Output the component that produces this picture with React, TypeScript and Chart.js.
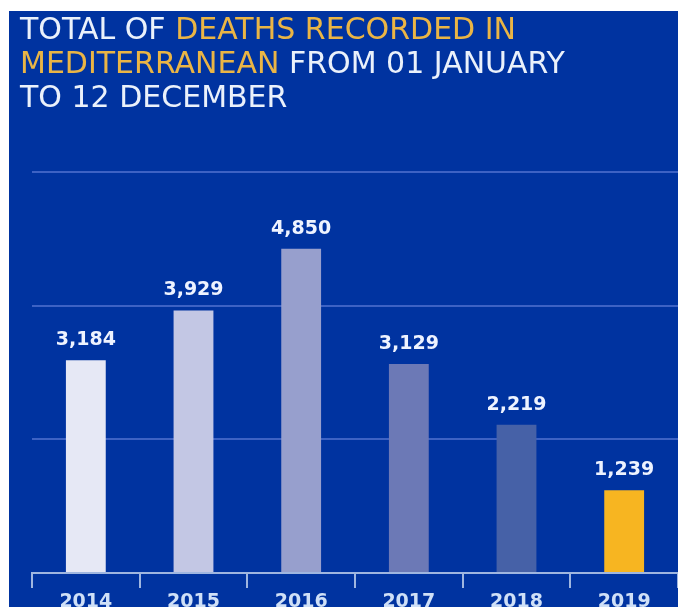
import React, { useEffect, useRef } from "react";
import { Chart, registerables } from "chart.js";

Chart.register(...registerables);

const years = ["2014", "2015", "2016", "2017", "2018", "2019"];
const deaths = [3184, 3929, 4850, 3129, 2219, 1239];
const barColors = ["#e6e8f5", "#c3c7e4", "#979fcd", "#6c79b6", "#4661a7", "#f7b521"];
const yMax = 6000;
const yStep = 2000;

const BG = "#0033a0";
const GRID = "#3d62c4";
const AXIS = "#9fb6e0";

const valueLabels = {
  id: "valueLabels",
  afterDatasetsDraw(chart: any) {
    const ctx = chart.ctx;
    const meta = chart.getDatasetMeta(0);
    ctx.save();
    ctx.font = "bold 19px 'DejaVu Sans'";
    ctx.fillStyle = "#eef3ff";
    ctx.textAlign = "center";
    ctx.textBaseline = "alphabetic";
    meta.data.forEach((bar: any, i: number) => {
      const v = chart.data.datasets[0].data[i] as number;
      ctx.fillText(v.toLocaleString("en-US"), bar.x, bar.y - 15);
    });
    ctx.restore();
  },
};

export default function App() {
  const ref = useRef<HTMLCanvasElement>(null);

  useEffect(() => {
    document.documentElement.style.overflow = "hidden";
    document.body.style.margin = "0";
    const chart = new Chart(ref.current!, {
      type: "bar",
      data: {
        labels: years,
        datasets: [
          {
            data: deaths,
            backgroundColor: barColors,
            borderWidth: 0,
            barPercentage: 0.37,
            categoryPercentage: 1,
          },
        ],
      },
      options: {
        animation: false,
        responsive: false,
        maintainAspectRatio: false,
        layout: { padding: { left: 32, right: 0, top: 172, bottom: 0 } },
        plugins: {
          legend: { display: false },
          tooltip: { enabled: false },
          title: { display: false },
        },
        scales: {
          x: {
            offset: true,
            grid: {
              offset: true,
              drawOnChartArea: false,
              drawTicks: true,
              tickLength: 15,
              color: AXIS,
              lineWidth: 2,
            },
            border: { display: true, color: AXIS, width: 2 },
            ticks: {
              color: "#cfe0f7",
              font: { family: "'DejaVu Sans'", size: 19, weight: "bold" },
              padding: 3,
            },
            afterFit: (scale: any) => {
              scale.height = 40;
            },
          },
          y: {
            min: 0,
            max: yMax,
            ticks: { display: false, stepSize: yStep },
            border: { display: false },
            grid: {
              drawTicks: false,
              tickLength: 0,
              lineWidth: 2,
              color: (c: any) => (c.tick && c.tick.value === 0 ? "rgba(0,0,0,0)" : GRID),
            },
          },
        },
      },
      plugins: [valueLabels],
    });
    return () => chart.destroy();
  }, []);

  return (
    <div
      style={{
        position: "absolute",
        left: 9,
        top: 11,
        width: 669,
        height: 596,
        background: BG,
        overflow: "hidden",
      }}
    >
      <canvas
        ref={ref}
        width={678}
        height={613}
        style={{ position: "absolute", left: -9, top: -11, width: 678, height: 613 }}
      />
      <div
        style={{
          position: "absolute",
          left: 11,
          top: 1,
          fontFamily: "'DejaVu Sans'",
          fontSize: 30,
          lineHeight: "34px",
          color: "#eaf1fb",
          whiteSpace: "nowrap",
        }}
      >
        <div>
          TOTAL OF <span style={{ color: "#eab545" }}>DEATHS RECORDED IN</span>
        </div>
        <div>
          <span style={{ color: "#eab545" }}>MEDITERRANEAN</span> FROM 01 JANUARY
        </div>
        <div>TO 12 DECEMBER</div>
      </div>
    </div>
  );
}
